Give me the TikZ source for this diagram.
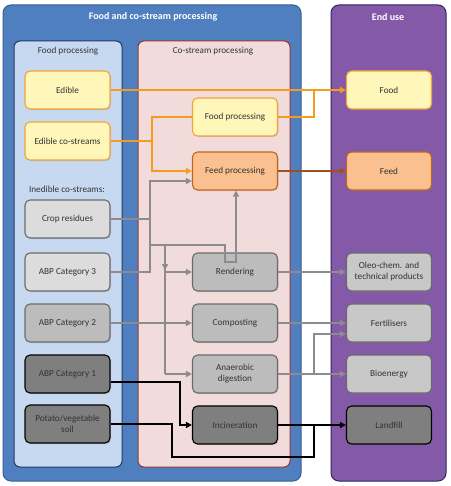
\documentclass[tikz,border=0pt]{standalone}
\usepackage{fontspec}
\setmainfont{Carlito}
\usetikzlibrary{arrows.meta,calc,shadows}
\definecolor{outerblue}{HTML}{4F7FBE}
\definecolor{outerblueb}{HTML}{365F97}
\definecolor{endpurple}{HTML}{8459A8}
\definecolor{endpurpleb}{HTML}{2E2460}
\definecolor{panelblue}{HTML}{C6D9F1}
\definecolor{panelblueb}{HTML}{1F3864}
\definecolor{panelpink}{HTML}{F2DCDB}
\definecolor{panelpinkb}{HTML}{943634}
\definecolor{yfill}{HTML}{FFF7BA}
\definecolor{ydraw}{HTML}{F2A33A}
\definecolor{ofill}{HTML}{FAC08F}
\definecolor{odraw}{HTML}{C0651E}
\definecolor{lgfill}{HTML}{DCDCDC}
\definecolor{mgfill}{HTML}{BCBCBC}
\definecolor{rgfill}{HTML}{C8C8C8}
\definecolor{dgfill}{HTML}{7F7F7F}
\definecolor{gdraw}{HTML}{6B6B6B}
\definecolor{orangeline}{HTML}{F39C1F}
\definecolor{brownline}{HTML}{A0501E}
\definecolor{grayline}{HTML}{8C8C8C}
\definecolor{txt}{HTML}{333333}
\tikzset{
  box/.style={rectangle, rounded corners=5pt, minimum width=85pt, minimum height=38pt, align=center, font=\fontsize{9.2}{11}\selectfont, text=txt, line width=1.1pt, inner sep=2pt, drop shadow={opacity=0.25, shadow xshift=1pt, shadow yshift=-1.2pt}},
  ybox/.style={box, fill=yfill, draw=ydraw},
  obox/.style={box, fill=ofill, draw=odraw},
  lgbox/.style={box, fill=lgfill, draw=gdraw},
  mgbox/.style={box, fill=mgfill, draw=gdraw},
  rgbox/.style={box, fill=rgfill, draw=gdraw},
  dgbox/.style={box, fill=dgfill, draw=black},
  tip/.style={-{Triangle[length=6pt,width=6pt]}},
  oline/.style={draw=orangeline, line width=2pt},
  bline/.style={draw=brownline, line width=2pt},
  gline/.style={draw=grayline, line width=2pt},
  kline/.style={draw=black, line width=2pt},
  title/.style={font=\fontsize{10}{12}\selectfont\bfseries, text=white},
  ptitle/.style={font=\fontsize{9.2}{11}\selectfont, text=txt}
}
\begin{document}
\begin{tikzpicture}[x=1pt,y=-1pt]
\useasboundingbox (0,0) rectangle (450,486);
\fill[white] (0,0) rectangle (450,486);
% containers
\draw[fill=outerblue, draw=outerblueb, line width=1pt, rounded corners=8pt] (3,5) rectangle (301,481);
\draw[fill=endpurple, draw=endpurpleb, line width=1pt, rounded corners=8pt] (331,5) rectangle (446,481);
\draw[fill=panelblue, draw=panelblueb, line width=1pt, rounded corners=6pt] (14,41) rectangle (122,467);
\draw[fill=panelpink, draw=panelpinkb, line width=1pt, rounded corners=6pt] (138,41) rectangle (290,467);
\node[title] (t1) at (153,17) {Food and co-stream processing};
\node[title] (t2) at (388,17) {End use};
\node[ptitle] (t3) at (68,51) {Food processing};
\node[ptitle] (t4) at (213,51) {Co-stream processing};
\node[ptitle] (t5) at (67,189) {Inedible co-streams:};
% left nodes
\node[ybox] (edible) at (67.5,90) {Edible};
\node[ybox] (edcs) at (67.5,141) {Edible co-streams};
\node[lgbox] (crop) at (67.5,219) {Crop residues};
\node[lgbox] (abp3) at (67.5,272) {ABP Category 3};
\node[mgbox] (abp2) at (67.5,323) {ABP Category 2};
\node[dgbox] (abp1) at (67.5,374) {ABP Category 1};
\node[dgbox] (soil) at (67.5,424) {Potato/vegetable\\soil};
% middle nodes
\node[ybox] (foodp) at (235,117) {Food processing};
\node[obox] (feedp) at (235,171) {Feed processing};
\node[mgbox] (rend) at (235,272) {Rendering};
\node[mgbox] (comp) at (235,323) {Composting};
\node[mgbox] (anaer) at (235,374) {Anaerobic\\digestion};
\node[dgbox] (incin) at (235,425) {Incineration};
% right nodes
\node[ybox] (food) at (389,90) {Food};
\node[obox] (feed) at (389,171) {Feed};
\node[rgbox] (oleo) at (389,272) {Oleo-chem. and\\technical products};
\node[rgbox] (fert) at (389,323) {Fertilisers};
\node[rgbox] (bio) at (389,374) {Bioenergy};
\node[dgbox] (land) at (389,425) {Landfill};
% coordinates
\coordinate (j1) at (152,141);
\coordinate (j2) at (314,90);
\coordinate (gA) at (150,181);
\coordinate (gB) at (150,245);
\coordinate (gC) at (165,245);
\coordinate (gM) at (165,270);
\coordinate (gD) at (165,374);
\coordinate (r1) at (225,245);
\coordinate (r2) at (225,262);
\coordinate (r3) at (236,262);
\coordinate (gF) at (314,334);
\coordinate (k1) at (180,382);
\coordinate (s1) at (172,424);
\coordinate (s2) at (172,457);
\coordinate (s3) at (314,457);
\coordinate (s4) at (314,425);
% orange
\draw[oline,tip] (edible.east) -- (food.west);
\draw[oline] (edcs.east) -- (j1) |- (foodp.west);
\draw[oline,tip] (j1) |- (feedp.west);
\draw[oline] (foodp.east) -| (j2);
% brown
\draw[bline,tip] (feedp.east) -- (feed.west);
% gray
\draw[gline,tip] (abp3.east) -| (gA) -- (gA -| feedp.west);
\draw[gline] (crop.east) -- (crop.east -| gA);
\draw[gline,tip] (gB) -- (r1) -- (r2) -- (r3) -- (r3 |- feedp.south);
\draw[gline] (gC) -- (gD);
\draw[gline,tip] (gC) -- (gM);
\draw[gline,tip] (gC |- rend.west) -- (rend.west);
\draw[gline,tip] (gD) -- (anaer.west);
\draw[gline,tip] (abp2.east) -- (comp.west);
\draw[gline,tip] (rend.east) -- (oleo.west);
\draw[gline,tip] (comp.east) -- (fert.west);
\draw[gline,tip] (anaer.east) -- (bio.west);
\draw[gline,tip] (anaer.east -| gF) -- (gF) -- (gF -| fert.west);
% black
\draw[kline,tip] (abp1.east |- k1) -- (k1) -- (k1 |- incin.west) -- (incin.west);
\draw[kline] (soil.east) -- (s1) -- (s2) -- (s3) -- (s4);
\draw[kline,tip] (incin.east) -- (land.west);
\end{tikzpicture}
\end{document}
